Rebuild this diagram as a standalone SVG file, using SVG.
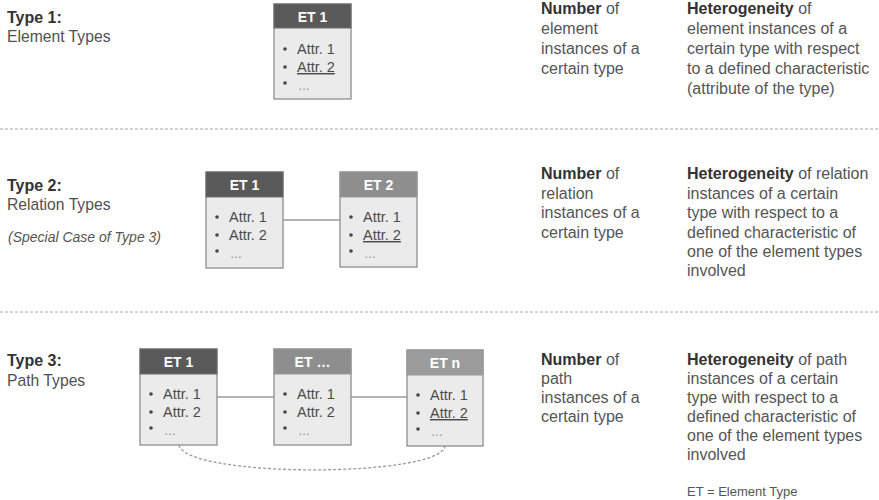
<svg xmlns="http://www.w3.org/2000/svg" width="879" height="500" viewBox="0 0 879 500">
  <style>
    text { font-family: "Liberation Sans", Arial, sans-serif; }
    .lbl { font-size: 15.7px; fill: #505050; }
    .lblb { font-size: 16px; font-weight: bold; fill: #333; }
    .note { font-size: 14px; font-style: italic; fill: #555; }
    .desc { font-size: 16px; fill: #555; }
    .desc tspan.b { font-weight: bold; fill: #333; }
    .hdr-dark { fill: #595959; stroke: #6e6e6e; stroke-width: 1; }
    .hdr-light { fill: #8e8e8e; stroke: #9a9a9a; stroke-width: 1; }
    .body { fill: #ebebeb; stroke: #8e8e8e; stroke-width: 1.3; }
    .htxt { font-size: 14px; font-weight: bold; fill: #fff; text-anchor: middle; }
    .attr { font-size: 14.5px; fill: #4a4a4a; }
    .u { text-decoration: underline; }
    .dots { font-size: 12px; fill: #888; }
    .sep { stroke: #a8a8a8; stroke-width: 1; stroke-dasharray: 3 2; fill: none; }
    .link { stroke: #9a9a9a; stroke-width: 1.5; fill: none; }
    .path { stroke: #9a9a9a; stroke-width: 1.3; stroke-dasharray: 3 2; fill: none; }
  </style>
  <defs>
    <!-- bullet column shared by all entity boxes -->
    <g id="attrs">
      <circle cx="11" cy="45" r="1.8" fill="#444"/>
      <circle cx="11" cy="63" r="1.8" fill="#444"/>
      <circle cx="11" cy="79" r="1.8" fill="#444"/>
      <text class="dots" x="24" y="86">…</text>
    </g>
  </defs>

  <rect width="879" height="500" fill="#fff"/>

  <!-- separators -->
  <line class="sep" x1="0" y1="129" x2="879" y2="129"/>
  <line class="sep" x1="0" y1="312" x2="879" y2="312"/>

  <!-- row labels -->
  <g id="label-type1">
    <text class="lblb" x="7" y="23">Type 1:</text>
    <text class="lbl" x="7" y="42">Element Types</text>
  </g>
  <g id="label-type2">
    <text class="lblb" x="7" y="191">Type 2:</text>
    <text class="lbl" x="7" y="210">Relation Types</text>
    <text class="note" x="8" y="242">(Special Case of Type 3)</text>
  </g>
  <g id="label-type3">
    <text class="lblb" x="7" y="366">Type 3:</text>
    <text class="lbl" x="7" y="386">Path Types</text>
  </g>

  <!-- connectors -->
  <g id="connectors">
    <line class="link" x1="283" y1="220" x2="340" y2="220"/>
    <line class="link" x1="217" y1="397" x2="274" y2="397"/>
    <line class="link" x1="351" y1="397" x2="407" y2="397"/>
    <path class="path" d="M179 445 C 185 478, 440 478, 445 446"/>
  </g>

  <!-- Type 1 node -->
  <g id="t1-et1" transform="translate(274,4)">
    <rect class="body" x="0" y="0" width="77" height="95"/>
    <rect class="hdr-dark" x="0" y="0" width="77" height="24"/>
    <text class="htxt" x="38.5" y="18">ET 1</text>
    <use href="#attrs"/>
    <text class="attr" x="23" y="50">Attr. 1</text>
    <text class="attr u" x="23" y="68">Attr. 2</text>
  </g>

  <!-- Type 2 nodes -->
  <g id="t2-et1" transform="translate(206,172)">
    <rect class="body" x="0" y="0" width="77" height="96"/>
    <rect class="hdr-dark" x="0" y="0" width="77" height="25"/>
    <text class="htxt" x="38.5" y="18">ET 1</text>
    <use href="#attrs"/>
    <text class="attr" x="23" y="50">Attr. 1</text>
    <text class="attr" x="23" y="68">Attr. 2</text>
  </g>
  <g id="t2-et2" transform="translate(340,172)">
    <rect class="body" x="0" y="0" width="77" height="95"/>
    <rect class="hdr-light" x="0" y="0" width="77" height="25"/>
    <text class="htxt" x="38.5" y="18">ET 2</text>
    <use href="#attrs"/>
    <text class="attr" x="23" y="50">Attr. 1</text>
    <text class="attr u" x="23" y="68">Attr. 2</text>
  </g>

  <!-- Type 3 nodes -->
  <g id="t3-et1" transform="translate(140,349)">
    <rect class="body" x="0" y="0" width="77" height="96"/>
    <rect class="hdr-dark" x="0" y="0" width="77" height="25"/>
    <text class="htxt" x="38.5" y="18">ET 1</text>
    <use href="#attrs"/>
    <text class="attr" x="23" y="50">Attr. 1</text>
    <text class="attr" x="23" y="68">Attr. 2</text>
  </g>
  <g id="t3-etmid" transform="translate(274,349)">
    <rect class="body" x="0" y="0" width="77" height="96"/>
    <rect class="hdr-light" x="0" y="0" width="77" height="25"/>
    <text class="htxt" x="38.5" y="18">ET …</text>
    <use href="#attrs"/>
    <text class="attr" x="23" y="50">Attr. 1</text>
    <text class="attr" x="23" y="68">Attr. 2</text>
  </g>
  <g id="t3-etn" transform="translate(407,350)">
    <rect class="body" x="0" y="0" width="76" height="96"/>
    <rect class="hdr-light" x="0" y="0" width="76" height="25" style="fill:#9b9b9b"/>
    <text class="htxt" x="38" y="18">ET n</text>
    <use href="#attrs"/>
    <text class="attr" x="23" y="50">Attr. 1</text>
    <text class="attr u" x="23" y="68">Attr. 2</text>
  </g>

  <!-- metric descriptions -->
  <g id="num-type1">
    <text class="desc" x="541" y="14"><tspan class="b">Number</tspan> of</text>
    <text class="desc" x="541" y="34">element</text>
    <text class="desc" x="541" y="54">instances of a</text>
    <text class="desc" x="541" y="74">certain type</text>
  </g>
  <g id="het-type1">
    <text class="desc" x="687" y="14"><tspan class="b">Heterogeneity</tspan> of</text>
    <text class="desc" x="687" y="34">element instances of a</text>
    <text class="desc" x="687" y="54">certain type with respect</text>
    <text class="desc" x="687" y="74">to a defined characteristic</text>
    <text class="desc" x="687" y="94">(attribute of the type)</text>
  </g>
  <g id="num-type2">
    <text class="desc" x="541" y="179"><tspan class="b">Number</tspan> of</text>
    <text class="desc" x="541" y="199">relation</text>
    <text class="desc" x="541" y="218">instances of a</text>
    <text class="desc" x="541" y="238">certain type</text>
  </g>
  <g id="het-type2">
    <text class="desc" x="687" y="179"><tspan class="b">Heterogeneity</tspan> of relation</text>
    <text class="desc" x="687" y="199">instances of a certain</text>
    <text class="desc" x="687" y="218">type with respect to a</text>
    <text class="desc" x="687" y="238">defined characteristic of</text>
    <text class="desc" x="687" y="257">one of the element types</text>
    <text class="desc" x="687" y="276">involved</text>
  </g>
  <g id="num-type3">
    <text class="desc" x="541" y="365"><tspan class="b">Number</tspan> of</text>
    <text class="desc" x="541" y="384">path</text>
    <text class="desc" x="541" y="403">instances of a</text>
    <text class="desc" x="541" y="422">certain type</text>
  </g>
  <g id="het-type3">
    <text class="desc" x="687" y="365"><tspan class="b">Heterogeneity</tspan> of path</text>
    <text class="desc" x="687" y="384">instances of a certain</text>
    <text class="desc" x="687" y="403">type with respect to a</text>
    <text class="desc" x="687" y="422">defined characteristic of</text>
    <text class="desc" x="687" y="441">one of the element types</text>
    <text class="desc" x="687" y="460">involved</text>
  </g>
  <g id="legend">
    <text class="desc" x="687" y="496" style="font-size:13px">ET = Element Type</text>
  </g>
</svg>
